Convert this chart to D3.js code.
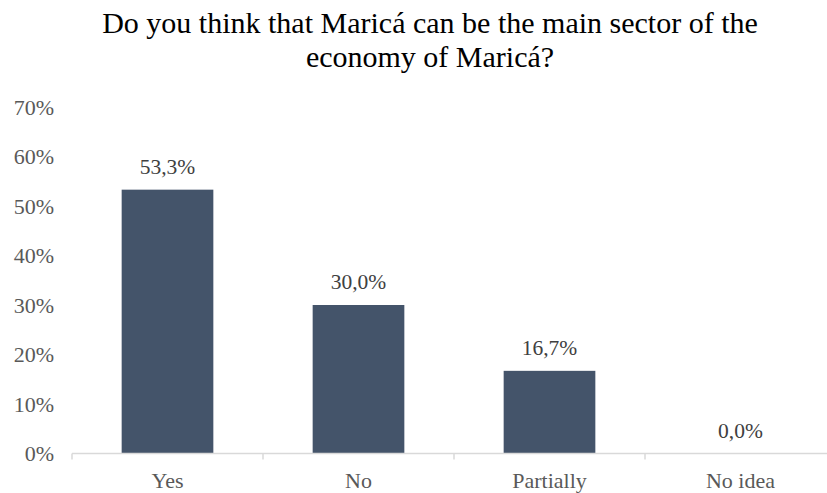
<!DOCTYPE html>
<html>
<head>
<meta charset="utf-8">
<script src="https://cdn.jsdelivr.net/npm/d3@7"></script>
<style>
  html, body { margin: 0; padding: 0; background: #fff; }
  svg { display: block; }
</style>
</head>
<body>
<svg id="chart" width="827" height="493"></svg>
<script>
// Survey answers and their shares
const categories = ["Yes", "No", "Partially", "No idea"];
const shares = [0.533, 0.300, 0.167, 0.000];
const yTicks = [0, 0.1, 0.2, 0.3, 0.4, 0.5, 0.6, 0.7];
const titleLines = ["Do you think that Maricá can be the main sector of the", "economy of Maricá?"];

const FONT = "'Liberation Serif'";
const svg = d3.select("#chart");
const W = 827, H = 493;
const left = 72, right = 836, y0 = 453.5, yTop = 107;

svg.append("rect").attr("width", W).attr("height", H).attr("fill", "#fff");

const x = d3.scaleBand().domain(categories).range([left, right]).paddingInner(0.52).paddingOuter(0.26);
const y = d3.scaleLinear().domain([0, 0.7]).range([y0, yTop]);

const pct = d3.format(".0%");
const comma = v => (v * 100).toFixed(1).replace(".", ",") + "%";

// Title
svg.append("g").selectAll("text").data(titleLines).join("text")
  .attr("x", 430).attr("y", (d, i) => 32.5 + i * 34)
  .attr("text-anchor", "middle")
  .style("font-family", FONT).style("font-size", "30px")
  .attr("fill", "#000")
  .text(d => d);

// Y axis labels (no axis line)
const yAxis = svg.append("g").attr("transform", `translate(${left - 18},0)`)
  .call(d3.axisLeft(y).tickValues(yTicks).tickFormat(pct).tickSize(0).tickPadding(0));
yAxis.attr("font-family", null);
yAxis.select(".domain").remove();
yAxis.selectAll("text")
  .style("font-family", FONT).style("font-size", "22px")
  .attr("fill", "#595959");

// Bars
svg.append("g").selectAll("rect").data(categories).join("rect")
  .attr("x", d => x(d))
  .attr("y", (d, i) => y(shares[i]))
  .attr("width", x.bandwidth())
  .attr("height", (d, i) => y0 - y(shares[i]))
  .attr("fill", "#44546A");

// Value labels
svg.append("g").selectAll("text").data(categories).join("text")
  .attr("x", d => x(d) + x.bandwidth() / 2)
  .attr("y", (d, i) => y(shares[i]) - 16)
  .attr("text-anchor", "middle")
  .style("font-family", FONT).style("font-size", "21.5px")
  .attr("fill", "#404040")
  .text((d, i) => comma(shares[i]));

// X axis with ticks at category boundaries
const xAxisG = svg.append("g");
xAxisG.append("line")
  .attr("x1", left).attr("x2", W).attr("y1", y0).attr("y2", y0)
  .attr("stroke", "#D9D9D9").attr("stroke-width", 1.5);
const bounds = categories.map(d => x(d) - x.step() * x.paddingInner() / 2);
bounds.push(right);
xAxisG.selectAll("line.tick").data(bounds).join("line")
  .attr("class", "tick")
  .attr("x1", d => d).attr("x2", d => d)
  .attr("y1", y0).attr("y2", y0 + 6)
  .attr("stroke", "#D9D9D9").attr("stroke-width", 1.5);

const xAxis = svg.append("g").attr("transform", `translate(0,${y0})`)
  .call(d3.axisBottom(x).tickSize(0).tickPadding(0));
xAxis.attr("font-family", null);
xAxis.select(".domain").remove();
xAxis.selectAll("text")
  .style("font-family", FONT).style("font-size", "22px")
  .attr("fill", "#595959")
  .attr("dy", 0).attr("y", 34);
</script>
</body>
</html>
